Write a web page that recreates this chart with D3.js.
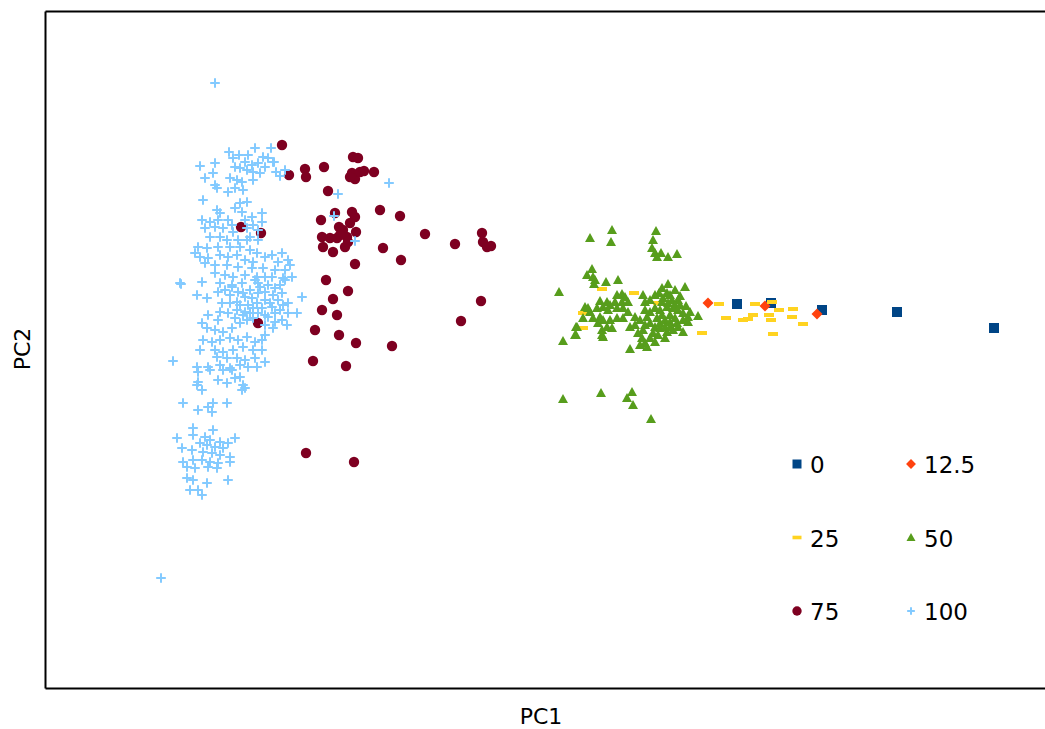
<!DOCTYPE html>
<html>
<head>
<meta charset="utf-8">
<script src="https://cdn.jsdelivr.net/npm/d3@7"></script>
<style>
  body { margin: 0; background: #fff; }
  svg { display: block; font-family: "DejaVu Sans", Verdana, sans-serif; }
</style>
</head>
<body>
<svg id="chart"></svg>
<script>
// PCA scores, one array per group
var s0 = [[1.92,0.46],[2.26,0.47],[2.77,0.40],[3.52,0.38],[4.49,0.22]];

var s12 = [[1.63,0.47],[2.20,0.44],[2.72,0.36]];

var s25 = [[0.38,0.37],[0.38,0.22],[0.57,0.61],[0.89,0.57],[1.13,0.47],[1.57,0.17],[1.74,0.46],
    [1.81,0.32],[1.98,0.30],[2.03,0.31],[2.08,0.35],[2.10,0.46],[2.24,0.35],[2.26,0.30],[2.27,0.48],
    [2.34,0.40],[2.47,0.33],[2.48,0.41],[2.58,0.26],[2.28,0.16]];

var s50 = [[0.67,1.20],[0.45,1.12],[0.66,1.08],[1.11,1.19],[1.08,1.10],[1.07,1.02],[1.10,0.97],
    [1.16,0.97],[1.23,0.93],[1.32,0.96],[1.12,0.93],
    [0.14,0.58],[0.47,0.81],[0.50,0.70],[0.49,0.66],[0.18,0.09],[0.31,0.23],[0.31,0.15],
    [0.18,-0.49],[0.56,-0.43],[0.87,-0.42],[0.82,-0.48],[0.88,-0.55],[1.06,-0.69],
    [0.42,0.75],[0.48,0.73],[0.61,0.68],[0.73,0.70],[1.40,0.63],[0.72,0.55],[0.77,0.56],[0.80,0.53],
    [0.83,0.48],[0.77,0.48],[0.70,0.48],[0.55,0.49],[0.62,0.48],[0.65,0.45],[0.98,0.55],[1.00,0.48],
    [1.14,0.57],[1.22,0.57],[1.25,0.55],[1.27,0.50],[1.17,0.48],[1.33,0.50],[0.40,0.43],[0.43,0.42],
    [0.45,0.38],[0.52,0.42],[0.58,0.43],[0.63,0.40],[0.72,0.42],[0.78,0.42],[0.83,0.38],[0.90,0.33],
    [1.02,0.33],[1.10,0.42],[1.15,0.40],[1.22,0.43],[1.28,0.42],[1.33,0.40],[1.38,0.37],[1.43,0.33],
    [1.53,0.34],[0.38,0.32],[0.48,0.32],[0.55,0.33],[0.58,0.30],[0.65,0.30],[0.72,0.32],[0.78,0.32],
    [0.32,0.23],[0.53,0.27],[0.57,0.20],[0.62,0.23],[0.67,0.22],[0.85,0.23],[0.98,0.20],[1.05,0.27],
    [1.10,0.23],[1.15,0.27],[1.20,0.30],[1.25,0.28],[1.32,0.27],[1.38,0.30],[1.43,0.28],[1.08,0.17],
    [1.13,0.15],[1.22,0.18],[1.28,0.20],[1.38,0.18],[0.30,0.15],[0.57,0.15],[0.58,0.13],[0.97,0.12],
    [1.00,0.07],[1.05,0.12],[1.10,0.08],[1.20,0.12],[0.85,0.01],[0.95,0.05],[1.02,0.03],
    [1.05,0.50],[1.10,0.55],[1.18,0.52],[1.23,0.47],[1.30,0.45],[1.35,0.45],[1.17,0.35],[1.25,0.35],
    [1.30,0.32],[1.12,0.32],[1.05,0.38],[1.00,0.40],[0.95,0.30],[1.00,0.25],[0.90,0.25],[0.93,0.17],
    [1.15,0.22],[1.20,0.23],[1.25,0.23],[1.33,0.23],[1.45,0.38],[1.41,0.44],[1.35,0.54],[1.30,0.60],
    [1.17,0.62],[1.23,0.66]];

var s75 = [[-2.63,2.05],[-2.56,1.75],[-2.40,1.81],[-2.39,1.73],[-2.21,1.83],[-2.17,1.59],[-1.92,1.93],
    [-1.87,1.92],[-1.93,1.77],[-1.90,1.71],[-1.85,1.78],[-1.81,1.79],[-1.95,1.73],[-1.71,1.78],
    [-2.24,1.30],[-2.10,1.37],[-1.93,1.38],[-1.90,1.33],[-1.95,1.27],[-2.06,1.23],[-2.02,1.20],
    [-1.89,1.18],[-1.98,1.13],[-2.15,1.12],[-2.23,1.13],[-2.22,1.03],[-2.12,0.98],[-2.00,1.03],
    [-1.97,1.08],[-2.08,1.12],[-2.05,1.15],[-1.65,1.40],[-1.45,1.34],[-1.62,1.02],[-1.44,0.90],
    [-1.90,0.86],[-1.20,1.16],[-0.90,1.06],[-0.63,1.17],[-0.62,1.08],[-0.58,1.03],[-0.54,1.04],
    [-2.19,0.70],[-1.97,0.59],[-2.12,0.51],[-2.23,0.40],[-2.08,0.35],[-0.64,0.49],[-0.84,0.29],
    [-2.30,0.20],[-2.06,0.15],[-1.89,0.07],[-1.53,0.04],[-2.32,-0.11],[-1.99,-0.16],[-2.39,-1.03],
    [-1.91,-1.12],[-3.04,1.23],[-2.84,1.17],[-2.87,0.27]];

var s100 = [[-3.30,2.67],[-3.84,-2.28],[-3.72,-0.11],[-3.64,0.66],[-3.62,-0.53],[-1.56,1.67],
    [-2.71,1.88],[-2.07,1.56],[-2.11,1.34],[-1.90,1.09],[-2.43,0.53],[-2.48,0.37],
    [-3.16,1.98],[-3.06,1.95],[-2.90,2.02],[-2.74,2.02],[-2.82,1.93],[-2.97,1.95],[-3.12,1.92],
    [-3.00,1.88],[-2.93,1.85],[-2.87,1.87],[-2.80,1.83],[-2.85,1.77],[-2.92,1.78],[-2.98,1.80],
    [-3.05,1.82],[-3.10,1.83],[-3.15,1.72],[-3.08,1.70],[-3.03,1.68],[-3.10,1.62],[-3.17,1.58],
    [-3.02,1.60],[-2.92,1.70],[-3.30,1.87],[-3.45,1.84],[-3.40,1.72],[-3.32,1.77],[-3.30,1.65],
    [-3.28,1.62],[-2.72,1.88],[-3.42,1.50],[-3.05,1.47],[-2.98,1.48],[-3.10,1.42],[-3.03,1.38],
    [-3.28,1.40],[-3.25,1.37],[-2.83,1.37],[-2.93,1.33],[-3.00,1.30],[-3.43,1.30],[-3.35,1.28],
    [-3.27,1.30],[-3.17,1.30],[-3.13,1.25],[-3.40,1.22],[-3.30,1.23],[-3.22,1.22],[-3.12,1.18],
    [-2.83,1.28],[-2.92,1.25],[-2.98,1.22],[-2.87,1.20],[-2.95,1.13],[-2.87,1.10],[-3.35,1.13],
    [-3.25,1.13],[-3.18,1.10],[-3.07,1.10],[-2.98,1.10],[-3.47,1.03],[-3.50,0.97],[-3.38,1.02],
    [-3.27,1.03],[-3.15,1.03],[-3.05,1.03],[-2.95,1.00],[-2.88,0.97],[-3.45,0.93],[-3.37,0.92],
    [-3.25,0.95],[-3.17,0.93],[-3.08,0.95],[-3.00,0.90],[-2.92,0.88],[-2.80,0.93],[-2.63,0.97],
    [-2.73,0.95],[-2.57,0.90],[-3.40,0.87],[-3.30,0.85],[-3.18,0.85],[-3.07,0.83],[-2.93,0.82],
    [-2.82,0.82],[-2.70,0.80],[-3.30,0.77],[-3.20,0.75],[-3.12,0.73],[-3.00,0.75],[-2.88,0.73],
    [-2.80,0.73],[-2.73,0.73],[-2.62,0.72],[-2.53,0.73],[-3.65,0.67],[-3.43,0.68],[-3.25,0.67],
    [-3.13,0.65],[-3.03,0.67],[-2.87,0.67],[-2.65,0.65],
    [-3.48,0.55],[-3.38,0.52],[-3.27,0.58],[-3.20,0.60],[-3.13,0.63],[-2.90,0.70],[-2.60,0.70],
    [-2.57,0.47],[-2.63,0.57],[-2.72,0.55],[-2.80,0.58],[-2.87,0.57],[-2.93,0.52],[-3.00,0.53],
    [-3.08,0.48],[-3.15,0.47],[-3.23,0.47],[-3.25,0.38],[-3.17,0.37],[-3.08,0.40],[-3.00,0.38],
    [-2.92,0.42],[-2.83,0.42],[-2.73,0.43],[-2.65,0.40],[-2.57,0.37],[-2.77,0.33],[-2.70,0.28],
    [-2.63,0.30],[-2.58,0.25],[-2.72,0.22],[-2.80,0.25],[-3.43,0.27],[-3.38,0.22],[-3.30,0.20],
    [-3.22,0.18],[-3.13,0.22],[-3.05,0.27],[-2.98,0.30],[-2.92,0.32],[-3.37,0.35],[-3.27,0.30],
    [-3.42,0.10],[-3.33,0.08],[-3.25,0.10],[-3.15,0.12],[-3.07,0.10],[-2.98,0.13],[-2.90,0.08],
    [-2.83,0.10],[-2.80,0.15],[-3.45,0.00],[-3.30,0.00],[-3.22,-0.02],[-3.12,0.00],[-3.02,0.03],
    [-2.92,0.00],[-2.83,0.00],[-3.28,-0.07],[-3.18,-0.08],[-3.08,-0.08],[-3.00,-0.10],[-2.90,-0.08],
    [-2.80,-0.12],[-3.48,-0.17],[-3.37,-0.17],[-3.25,-0.15],[-3.15,-0.18],[-3.05,-0.15],[-2.97,-0.17],
    [-2.88,-0.17],[-3.47,-0.22],[-3.35,-0.20],[-3.22,-0.20],[-3.13,-0.20],[-3.27,-0.30],[-3.18,-0.33],
    [-3.10,-0.28],[-3.05,-0.27],[-3.47,-0.32],[-3.48,-0.35],[-3.43,-0.40],[-3.02,-0.35],[-3.00,-0.38],
    [-3.03,-0.40],[-3.47,-0.60],[-3.37,-0.57],[-3.32,-0.53],[-3.18,-0.53],[-3.33,-0.62],
    [-3.52,-0.78],[-3.68,-0.88],[-3.52,-0.85],[-3.40,-0.87],[-3.35,-0.90],[-3.25,-0.92],[-3.17,-0.93],
    [-3.10,-0.88],[-3.45,-0.93],[-3.38,-0.95],[-3.30,-0.97],[-3.22,-0.98],[-3.63,-0.98],[-3.53,-1.00],
    [-3.42,-1.02],[-3.33,-1.03],[-3.25,-1.05],[-3.15,-1.07],[-3.62,-1.12],[-3.52,-1.10],[-3.43,-1.10],
    [-3.35,-1.12],[-3.27,-1.13],[-3.15,-1.12],[-3.58,-1.17],[-3.50,-1.18],[-3.37,-1.17],[-3.28,-1.18],
    [-3.58,-1.28],[-3.52,-1.30],[-3.17,-1.30],[-3.38,-1.33],[-3.55,-1.40],[-3.47,-1.40],[-3.43,-1.45],
    [-3.32,-0.80],
    [-3.02,0.57],[-2.95,0.60],[-2.85,0.63],[-2.77,0.65],[-2.70,0.62],[-3.05,0.45],[-2.97,0.45],
    [-2.88,0.47],[-2.80,0.50],[-2.75,0.47],[-2.67,0.50],[-2.62,0.45],[-3.10,0.32],[-3.02,0.35],
    [-2.95,0.37],[-2.87,0.37],[-2.80,0.35],[-2.70,0.37],[-3.15,0.55],[-3.07,0.58],[-2.55,0.85],
    [-2.60,0.80],[-2.67,0.88],[-2.77,1.92],[-2.69,1.78],[-2.60,1.80],[-2.65,1.74]];

var groupNames = ['0', '12.5', '25', '50', '75', '100'];
var groupColors = ['#004586', '#ff420e', '#ffd320', '#579d1c', '#7e0021', '#83caff'];
var groupData = [s0, s12, s25, s50, s75, s100];

var width = 1045, height = 729;
var margin = {top: 11, right: -10, bottom: 41, left: 45};

var svg = d3.select('#chart')
    .attr('width', width)
    .attr('height', height);

var x = d3.scaleLinear()
    .domain([-5, 5.1])
    .range([margin.left, width - margin.right]);

var y = d3.scaleLinear()
    .domain([-3.38, 3.39])
    .range([height - margin.bottom, margin.top]);

// marker shapes, LibreOffice style sequence
function marker(i, s) {
    s = s || 1;
    var p = d3.path();
    if (i === 0) {
        var h = 5 * s;
        p.rect(-h, -h, 2 * h, 2 * h);
    } else if (i === 1) {
        var d = 5.5 * s;
        p.moveTo(0, -d); p.lineTo(d, 0); p.lineTo(0, d); p.lineTo(-d, 0); p.closePath();
    } else if (i === 2) {
        p.rect(-5 * s, -2 * s, 10 * s, 4 * s);
    } else if (i === 3) {
        p.moveTo(0, -5 * s); p.lineTo(5 * s, 4 * s); p.lineTo(-5 * s, 4 * s); p.closePath();
    } else if (i === 4) {
        p.arc(0, 0, 5.2 * s, 0, 2 * Math.PI);
    } else {
        var r = 4.8 * s;
        p.moveTo(-r, 0); p.lineTo(r, 0); p.moveTo(0, -r); p.lineTo(0, r);
    }
    return p.toString();
}

function styleMarker(sel, i) {
    if (i === 5) {
        sel.attr('fill', 'none').attr('stroke', groupColors[i]).attr('stroke-width', 2);
    } else {
        sel.attr('fill', groupColors[i]).attr('stroke', 'none');
    }
}

groupData.forEach(function (pts, i) {
    var g = svg.append('g');
    g.selectAll('path')
        .data(pts)
        .enter()
        .append('path')
        .attr('d', marker(i))
        .attr('transform', function (d) {
            return 'translate(' + x(d[0]) + ',' + y(d[1]) + ')';
        })
        .call(styleMarker, i);
});

// frame: plain lines, no ticks
var frame = svg.append('g');
frame.append('g')
    .attr('transform', 'translate(0,' + y.range()[0] + ')')
    .call(d3.axisBottom(x).ticks(0).tickSizeOuter(0));
frame.append('g')
    .attr('transform', 'translate(0,' + y.range()[1] + ')')
    .call(d3.axisTop(x).ticks(0).tickSizeOuter(0));
frame.append('g')
    .attr('transform', 'translate(' + x.range()[0] + ',0)')
    .call(d3.axisLeft(y).ticks(0).tickSizeOuter(0));
frame.selectAll('.domain')
    .attr('stroke', '#000')
    .attr('stroke-width', 2);

svg.append('text')
    .attr('x', 541)
    .attr('y', 724)
    .attr('text-anchor', 'middle')
    .style('font-size', '22px')
    .text('PC1');

svg.append('text')
    .attr('transform', 'translate(30,' + 349 + ') rotate(-90)')
    .attr('text-anchor', 'middle')
    .style('font-size', '22px')
    .text('PC2');

// legend, two columns x three rows
var legend = svg.append('g');
groupNames.forEach(function (name, i) {
    var lx = 797 + (i % 2) * 114;
    var ly = 464 + Math.floor(i / 2) * 73.5;
    var item = legend.append('g').attr('transform', 'translate(' + lx + ',' + ly + ')');
    item.append('path')
        .attr('d', marker(i, i === 5 ? 0.8 : 0.9))
        .call(styleMarker, i);
    item.append('text')
        .attr('x', 13)
        .attr('y', 9)
        .style('font-size', '23px')
        .attr('fill', '#000')
        .text(name);
});
</script>
</body>
</html>
